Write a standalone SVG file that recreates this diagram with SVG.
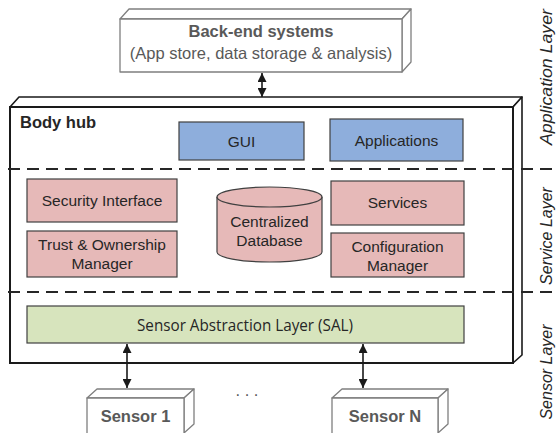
<svg xmlns="http://www.w3.org/2000/svg" width="557" height="433" viewBox="0 0 557 433">
<defs>
<style>
.t{font-family:"Liberation Sans",Arial,sans-serif;fill:#262626;font-size:15.5px;text-anchor:middle}
.g{font-family:"Liberation Sans",Arial,sans-serif;fill:#595959;font-size:16.5px;text-anchor:middle}
.b{font-weight:bold}
.lay{font-family:"Liberation Sans",Arial,sans-serif;font-style:italic;fill:#262626;font-size:16px;text-anchor:middle}
.box3d{fill:#fff;stroke:#7f7f7f;stroke-width:1.3;stroke-linejoin:round}
.pink{fill:#e6b9b8;stroke:#404040;stroke-width:1.2}
.blue{fill:#8eaedc;stroke:#404040;stroke-width:1.2}
.green{fill:#d7e4bd;stroke:#404040;stroke-width:1.2}
.dash{stroke:#262626;stroke-width:2;stroke-dasharray:12 7;fill:none}
.conn{stroke:#1a1a1a;stroke-width:1.6;fill:none;marker-start:url(#ah);marker-end:url(#ah)}
</style>
<marker id="ah" viewBox="0 0 10 10" refX="10" refY="5" markerWidth="9" markerHeight="9" markerUnits="userSpaceOnUse" orient="auto-start-reverse">
<path d="M0,0 L10,5 L0,10 z" fill="#1a1a1a"/>
</marker>
</defs>

<g id="backend">
<path class="box3d" d="M120,19 L129,9 L411,9 L402,19 Z"/>
<path class="box3d" d="M402,19 L411,9 L411,62 L402,72 Z"/>
<rect class="box3d" x="120" y="19" width="282" height="53"/>
<text class="g b" x="261" y="37">Back-end systems</text>
<text class="g" x="261" y="59">(App store, data storage &amp; analysis)</text>
</g>

<g id="bodyhub">
<path d="M10,107 L19,97 L522,97 L513,107 Z" fill="#fff" stroke="#1a1a1a" stroke-width="1.6" stroke-linejoin="round"/>
<path d="M513,107 L522,97 L522,355 L513,363 Z" fill="#fff" stroke="#1a1a1a" stroke-width="1.6" stroke-linejoin="round"/>
<rect x="10" y="107" width="503" height="256" fill="#fff" stroke="#1a1a1a" stroke-width="2"/>
<text class="t b" x="20" y="128" style="text-anchor:start;font-size:16.5px">Body hub</text>
</g>

<g id="dividers">
<line class="dash" x1="8" y1="169" x2="557" y2="169"/>
<line class="dash" x1="8" y1="292" x2="557" y2="292"/>
</g>

<g id="gui">
<rect class="blue" x="179" y="122" width="125" height="38"/>
<text class="t" x="241.5" y="147">GUI</text>
</g>
<g id="applications">
<rect class="blue" x="330" y="119" width="133" height="42"/>
<text class="t" x="396.5" y="146">Applications</text>
</g>

<g id="security">
<rect class="pink" x="27" y="179" width="150" height="43"/>
<text class="t" x="102" y="206">Security Interface</text>
</g>
<g id="trust">
<rect class="pink" x="27" y="231" width="150" height="46"/>
<text class="t" x="102" y="250">Trust &amp; Ownership</text>
<text class="t" x="102" y="269">Manager</text>
</g>

<g id="database">
<path class="pink" d="M217,197 L217,252 A52.5,10 0 0 0 322,252 L322,197"/>
<ellipse class="pink" cx="269.5" cy="197" rx="52.5" ry="10"/>
<text class="t" x="269.5" y="227">Centralized</text>
<text class="t" x="269.5" y="246">Database</text>
</g>

<g id="services">
<rect class="pink" x="331" y="181" width="133" height="44"/>
<text class="t" x="397.5" y="208">Services</text>
</g>
<g id="config">
<rect class="pink" x="331" y="233" width="133" height="44"/>
<text class="t" x="397.5" y="252">Configuration</text>
<text class="t" x="397.5" y="271">Manager</text>
</g>

<g id="sal">
<rect class="green" x="27" y="306" width="437" height="37"/>
<text x="245" y="331" textLength="216" lengthAdjust="spacingAndGlyphs" style="font-family:'Open Sans','Noto Sans',sans-serif;font-size:15.5px;fill:#262626;text-anchor:middle">Sensor Abstraction Layer (SAL)</text>
</g>

<g id="sensor1">
<path class="box3d" d="M87,398 L97,389 L194,389 L184,398 Z"/>
<path class="box3d" d="M184,398 L194,389 L194,424 L184,433 Z"/>
<rect class="box3d" x="87" y="398" width="97" height="40"/>
<text class="g b" x="135.5" y="422">Sensor 1</text>
</g>

<text class="g" x="247" y="396">. . .</text>

<g id="sensorN">
<path class="box3d" d="M332,398 L342,389 L448,389 L438,398 Z"/>
<path class="box3d" d="M438,398 L448,389 L448,424 L438,433 Z"/>
<rect class="box3d" x="332" y="398" width="106" height="40"/>
<text class="g b" x="385" y="422">Sensor N</text>
</g>

<g id="connectors">
<line class="conn" x1="262" y1="73" x2="262" y2="97"/>
<line class="conn" x1="127" y1="344" x2="127" y2="388"/>
<line class="conn" x1="363" y1="344" x2="363" y2="388"/>
</g>

<g id="layers">
<text class="lay" transform="translate(552,77) rotate(-90)" textLength="136" lengthAdjust="spacingAndGlyphs" style="font-size:17px">Application Layer</text>
<text class="lay" transform="translate(552,236) rotate(-90)">Service Layer</text>
<text class="lay" transform="translate(552,372) rotate(-90)">Sensor Layer</text>
</g>
</svg>
